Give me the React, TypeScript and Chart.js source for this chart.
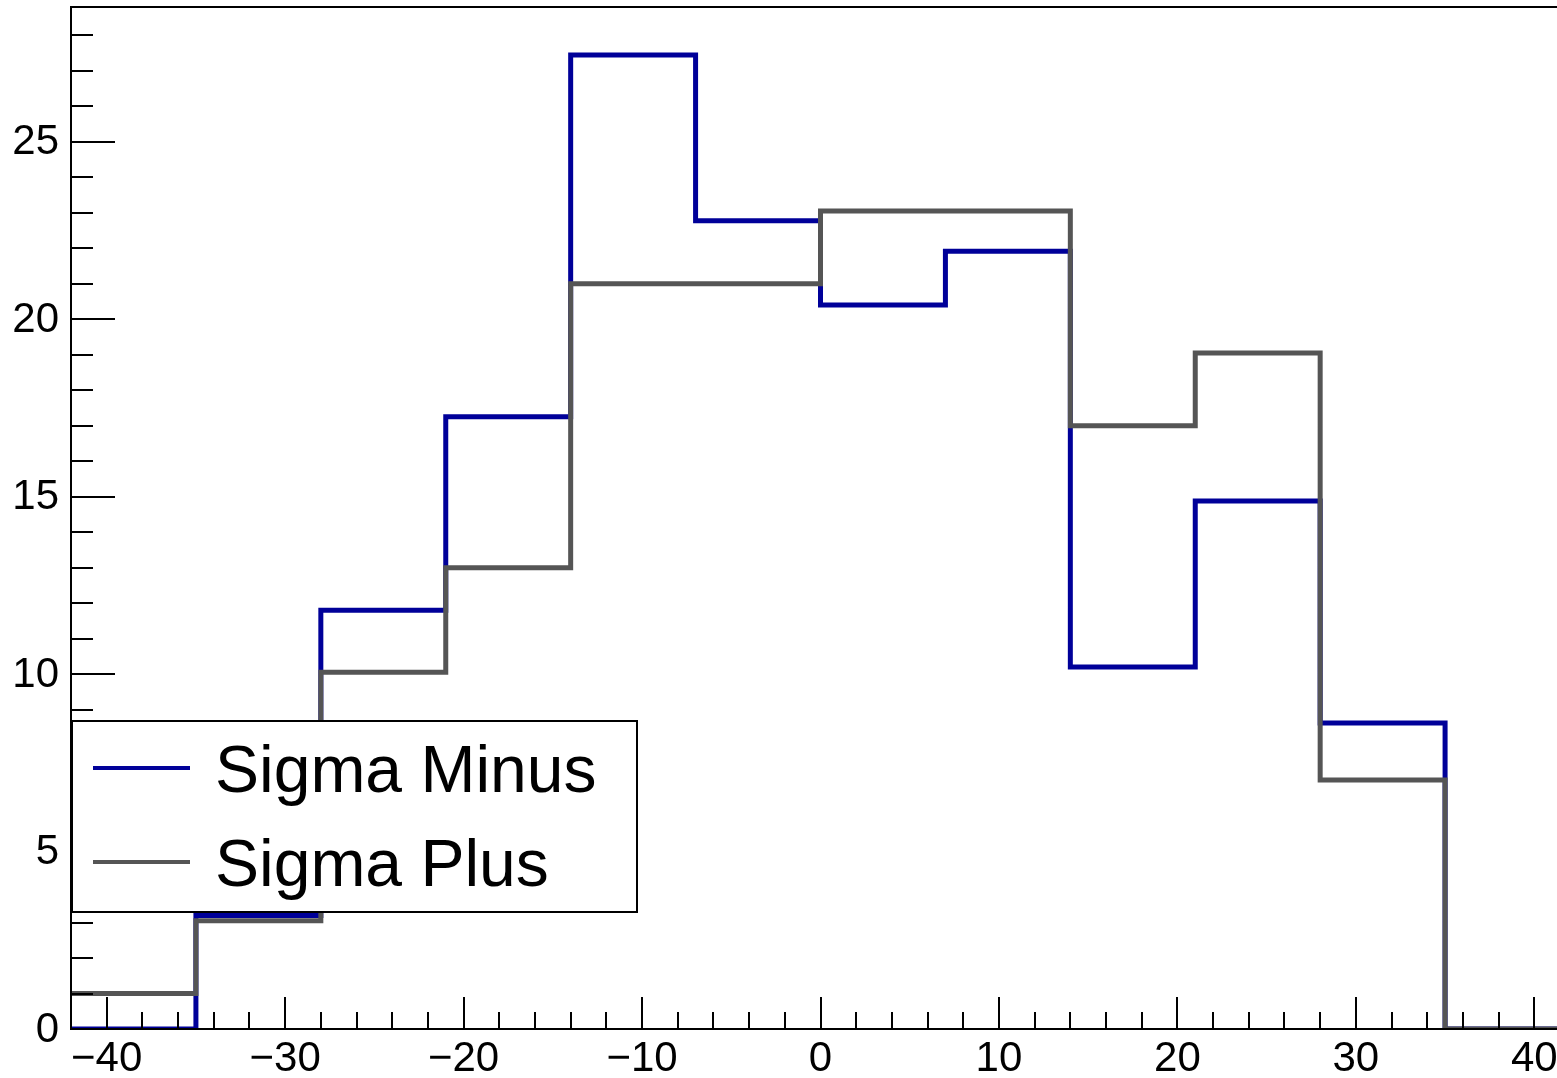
import { useEffect, useRef } from 'react';
import { Chart, registerables } from 'chart.js';

Chart.register(...registerables);

// ---- data ----
const binEdges = [-42, -35, -28, -21, -14, -7, 0, 7, 14, 21, 28, 35, 42];
const sigmaMinus = [0, 3.2, 11.8, 17.25, 27.45, 22.78, 20.4, 21.92, 10.2, 14.88, 8.62, 0];
const sigmaPlus = [1, 3.05, 10.05, 13, 21, 21, 23.05, 23.05, 17, 19.05, 7.02, 0];
const seriesLabels = ['Sigma Minus', 'Sigma Plus'];
const seriesColors = ['#000099', '#555555'];
const xTickLabels = [-40, -30, -20, -10, 0, 10, 20, 30, 40];
const yTickLabels = [0, 5, 10, 15, 20, 25];
const xRange = [-42, 42];
const yRange = [0, 28.8];

const W = 1580;
const H = 1078;
const FONT = '"Liberation Sans", Arial, Helvetica, sans-serif';

function toSteps(values: number[]) {
  return binEdges.map((x, i) => ({ x, y: values[Math.min(i, values.length - 1)] }));
}

const rootStyle = {
  id: 'rootStyle',
  afterDatasetsDraw(chart: any) {
    const ctx = chart.ctx as CanvasRenderingContext2D;
    const a = chart.chartArea;
    const xs = chart.scales.x;
    const ys = chart.scales.y;
    ctx.save();
    ctx.strokeStyle = '#000';
    ctx.lineWidth = 2;
    ctx.lineCap = 'butt';
    // frame
    ctx.strokeRect(a.left, a.top, a.right - a.left, a.bottom - a.top);

    // y ticks
    for (let v = 0; v <= Math.floor(yRange[1]); v++) {
      const py = Math.round(ys.getPixelForValue(v));
      const len = v % 5 === 0 ? 44 : 22;
      ctx.beginPath();
      ctx.moveTo(a.left, py);
      ctx.lineTo(a.left + len, py);
      ctx.stroke();
    }
    // x ticks
    for (let v = -40; v <= 40; v += 2) {
      const px = Math.round(xs.getPixelForValue(v));
      const len = v % 10 === 0 ? 32 : 17;
      ctx.beginPath();
      ctx.moveTo(px, a.bottom);
      ctx.lineTo(px, a.bottom - len);
      ctx.stroke();
    }

    // labels
    ctx.fillStyle = '#000';
    ctx.font = `42px ${FONT}`;
    ctx.textAlign = 'right';
    ctx.textBaseline = 'middle';
    yTickLabels.forEach((v) => {
      ctx.fillText(String(v), a.left - 12, ys.getPixelForValue(v) + 1);
    });
    ctx.textAlign = 'center';
    ctx.textBaseline = 'alphabetic';
    xTickLabels.forEach((v) => {
      const t = v < 0 ? '\u2212' + Math.abs(v) : String(v);
      ctx.fillText(t, xs.getPixelForValue(v), a.bottom + 42);
    });

    // legend
    const lx = 72, ly = 721, lw = 565, lh = 191;
    ctx.fillStyle = '#fff';
    ctx.fillRect(lx, ly, lw, lh);
    ctx.strokeStyle = '#000';
    ctx.lineWidth = 2;
    ctx.strokeRect(lx, ly, lw, lh);
    const rows = [768, 862];
    ctx.font = `66px ${FONT}`;
    ctx.textAlign = 'left';
    ctx.textBaseline = 'alphabetic';
    seriesLabels.forEach((lab, i) => {
      ctx.strokeStyle = seriesColors[i];
      ctx.lineWidth = 4;
      ctx.beginPath();
      ctx.moveTo(93, rows[i]);
      ctx.lineTo(190, rows[i]);
      ctx.stroke();
      ctx.fillStyle = '#000';
      ctx.fillText(lab, 215, rows[i] + 24);
    });
    ctx.restore();
  },
};

export default function App() {
  const ref = useRef<HTMLCanvasElement | null>(null);
  useEffect(() => {
    if (!ref.current) return;
    const chart = new Chart(ref.current, {
      type: 'line',
      data: {
        datasets: [
          {
            label: seriesLabels[0],
            data: toSteps(sigmaMinus),
            borderColor: seriesColors[0],
            borderWidth: 5,
            stepped: 'before',
            pointRadius: 0,
            fill: false,
            order: 1,
          },
          {
            label: seriesLabels[1],
            data: toSteps(sigmaPlus),
            borderColor: seriesColors[1],
            borderWidth: 5,
            stepped: 'before',
            pointRadius: 0,
            fill: false,
            order: 0,
          },
        ],
      },
      options: {
        responsive: false,
        animation: false,
        devicePixelRatio: 1,
        layout: { padding: { left: 71, right: W - 1570, top: 7, bottom: H - 1029 } },
        plugins: { legend: { display: false }, tooltip: { enabled: false } },
        scales: {
          x: { type: 'linear', display: false, min: xRange[0], max: xRange[1] },
          y: { type: 'linear', display: false, min: yRange[0], max: yRange[1] },
        },
      },
      plugins: [rootStyle],
    } as any);
    return () => chart.destroy();
  }, []);
  return (
    <div style={{ position: 'fixed', left: 0, top: 0, width: W, height: H, background: '#fff' }}>
      <canvas ref={ref} width={W} height={H} style={{ width: W, height: H, display: 'block' }} />
    </div>
  );
}
